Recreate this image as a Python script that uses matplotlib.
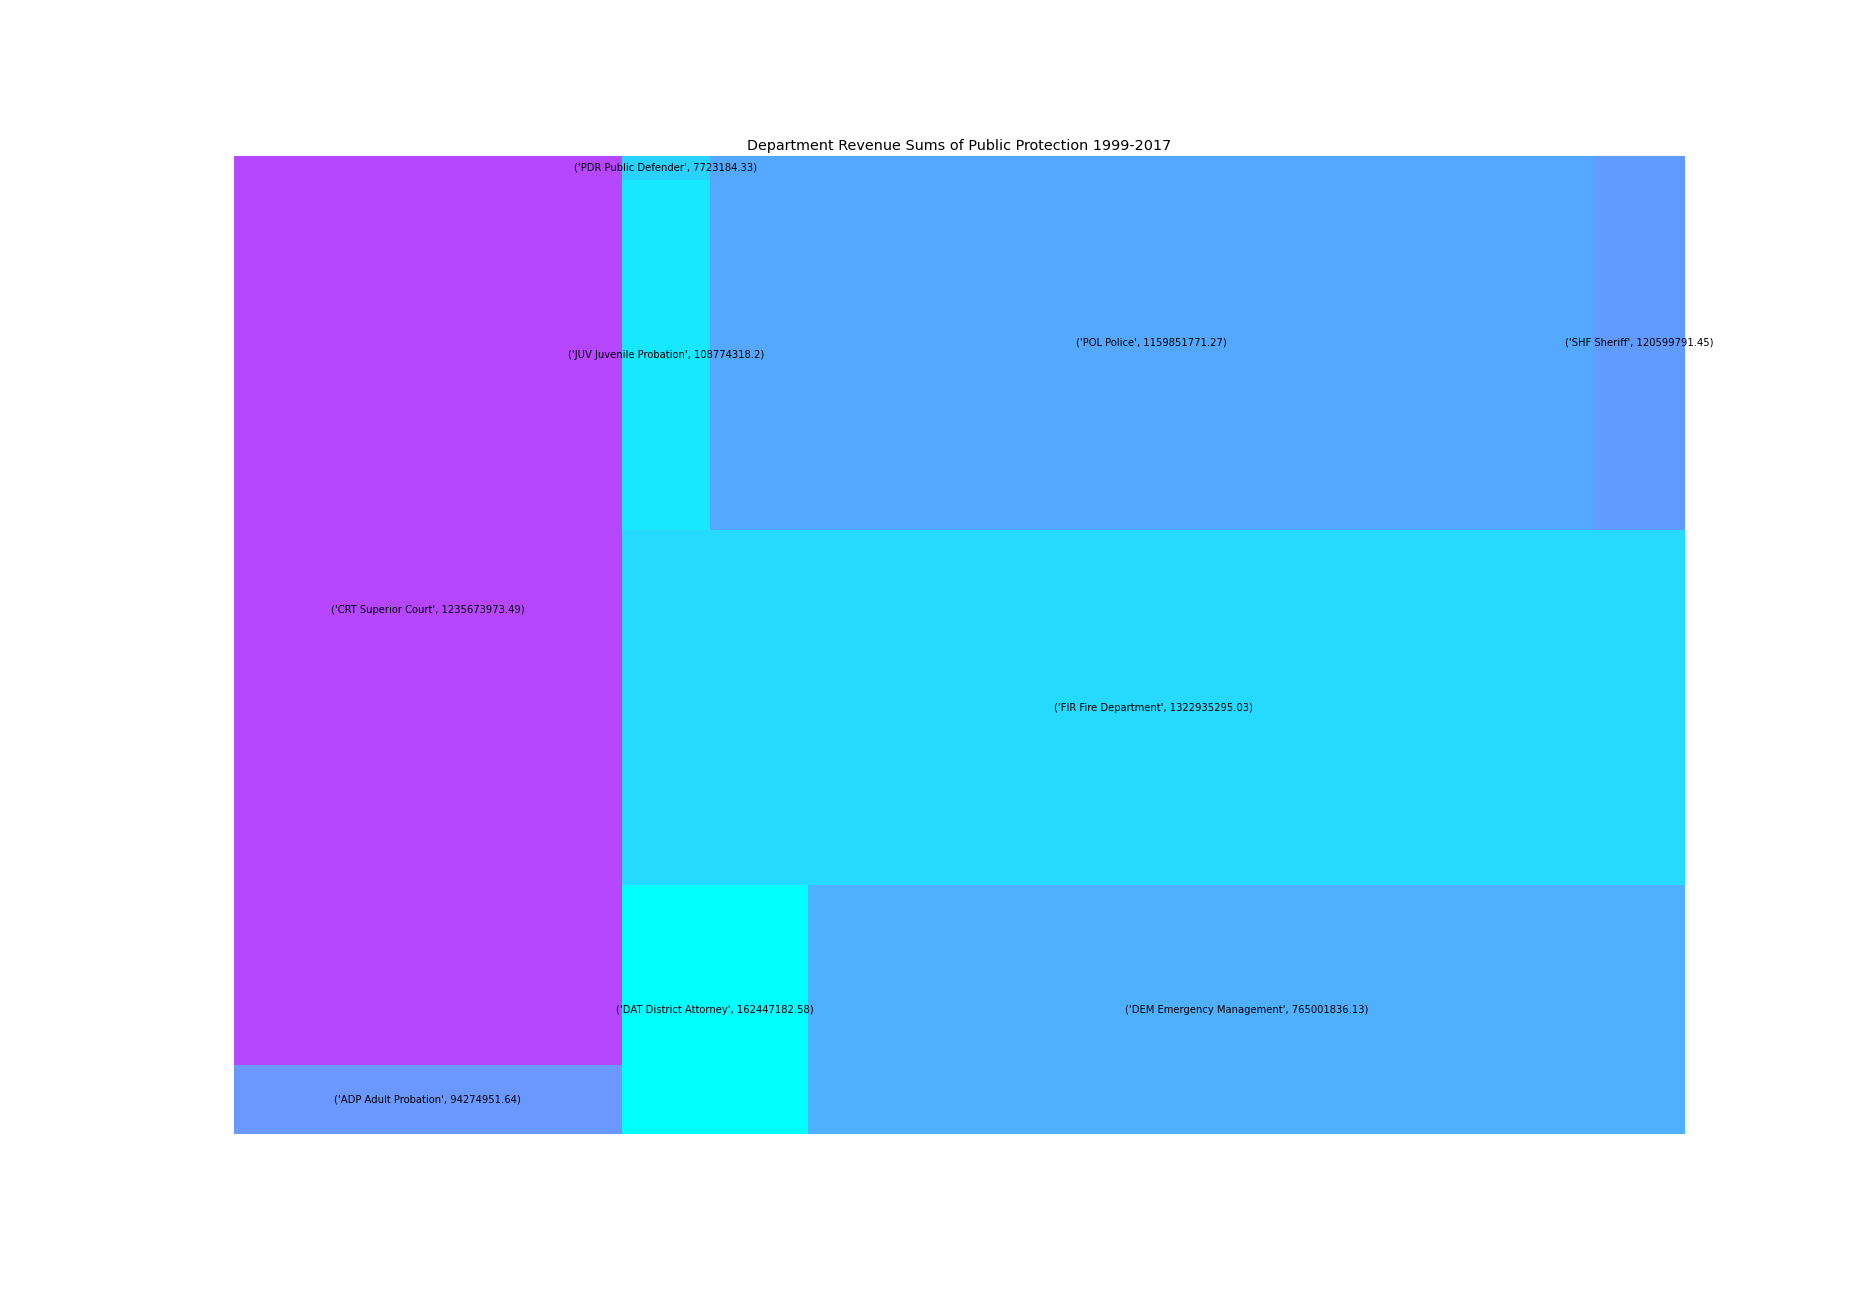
import matplotlib
matplotlib.use("Agg")
import matplotlib.pyplot as plt

departments = ["ADP Adult Probation", "CRT Superior Court", "DAT District Attorney",
               "DEM Emergency Management", "FIR Fire Department", "JUV Juvenile Probation",
               "PDR Public Defender", "POL Police", "SHF Sheriff"]
revenue = [94274951.64, 1235673973.49, 162447182.58, 765001836.13, 1322935295.03,
           108774318.2, 7723184.33, 1159851771.27, 120599791.45]
colors = ["#6a98ff", "#b647ff", "#00ffff", "#4fb0ff", "#26d9ff",
          "#17e8ff", "#2ad3ff", "#55a8ff", "#629bff"]


## squarify layout (same algorithm as the squarify package)

def normalize_sizes(sizes, dx, dy):
    total = sum(sizes)
    return [s * dx * dy / total for s in sizes]


def layoutrow(sizes, x, y, dx, dy):
    width = sum(sizes) / dy
    rects = []
    for s in sizes:
        rects.append((x, y, width, s / width))
        y += s / width
    return rects


def layoutcol(sizes, x, y, dx, dy):
    height = sum(sizes) / dx
    rects = []
    for s in sizes:
        rects.append((x, y, s / height, height))
        x += s / height
    return rects


def layout(sizes, x, y, dx, dy):
    if dx >= dy:
        return layoutrow(sizes, x, y, dx, dy)
    return layoutcol(sizes, x, y, dx, dy)


def leftover(sizes, x, y, dx, dy):
    area = sum(sizes)
    if dx >= dy:
        w = area / dy
        return x + w, y, dx - w, dy
    h = area / dx
    return x, y + h, dx, dy - h


def worst_ratio(sizes, x, y, dx, dy):
    return max(max(r[2] / r[3], r[3] / r[2]) for r in layout(sizes, x, y, dx, dy))


def squarify(sizes, x, y, dx, dy):
    if len(sizes) == 0:
        return []
    if len(sizes) == 1:
        return layout(sizes, x, y, dx, dy)
    i = 1
    while i < len(sizes) and worst_ratio(sizes[:i], x, y, dx, dy) >= worst_ratio(sizes[:i + 1], x, y, dx, dy):
        i += 1
    current = sizes[:i]
    rest = sizes[i:]
    lx, ly, ldx, ldy = leftover(current, x, y, dx, dy)
    return layout(current, x, y, dx, dy) + squarify(rest, lx, ly, ldx, ldy)


fig, ax = plt.subplots(figsize=(26, 18), dpi=72)
fig.subplots_adjust(bottom=0.125)

norm = normalize_sizes(revenue, 100, 100)
rects = squarify(norm, 0, 0, 100, 100)

xs = [r[0] for r in rects]
ys = [r[1] for r in rects]
ws = [r[2] for r in rects]
hs = [r[3] for r in rects]
ax.bar(xs, hs, width=ws, bottom=ys, color=colors, align="edge")

for (x, y, w, h), name, val in zip(rects, departments, revenue):
    ax.text(x + w / 2, y + h / 2, str((name, val)), va="center", ha="center", fontsize=10)

ax.set_xlim(0, 100)
ax.set_ylim(0, 100)
ax.set_title("Department Revenue Sums of Public Protection 1999-2017", fontsize=14.4)
plt.axis("off")

plt.savefig("out.png", dpi=72)
